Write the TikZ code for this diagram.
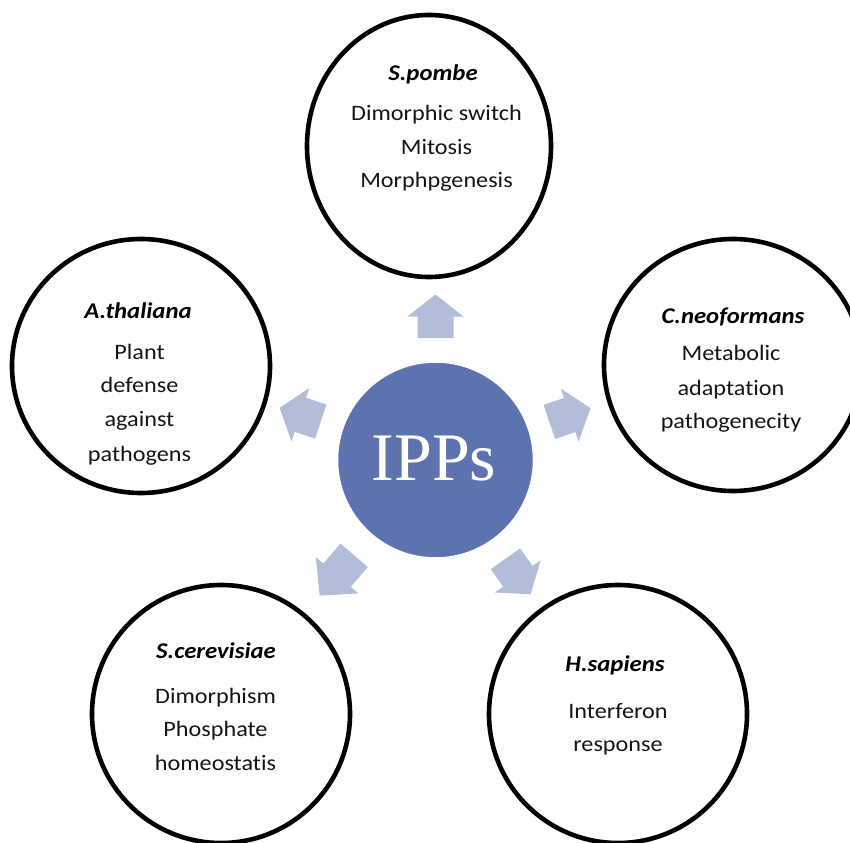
\documentclass[tikz,border=0pt]{standalone}
\usepackage{fontspec}
\setmainfont{Carlito}[FakeStretch=1.1, Ligatures=NoCommon]
\newfontfamily\ippsfont{Liberation Serif}
\usetikzlibrary{shapes.geometric}

\definecolor{ippsblue}{HTML}{5D73AF}
\definecolor{arrowblue}{HTML}{B3BDD9}

\begin{document}
\begin{tikzpicture}[x=1pt,y=-1pt,
  organism/.style={draw=black, line width=4.6pt, ellipse, inner sep=0pt},
  title/.style={anchor=base, inner sep=0pt,
    font=\fontsize{22.5}{26}\selectfont\bfseries\itshape},
  role/.style={anchor=base, inner sep=0pt, text=black!92,
    font=\fontsize{22}{26}\selectfont},
  outarrow/.style={fill=arrowblue, draw=none}]
\useasboundingbox (0,0) rectangle (850,842);

% organism circles
\node[organism, minimum width=244, minimum height=262] (pombe) at (429,146) {};
\node[organism, minimum width=258, minimum height=254] (thaliana) at (141,366) {};
\node[organism, minimum width=258, minimum height=252] (neoformans) at (733,365) {};
\node[organism, minimum width=258, minimum height=258] (cerevisiae) at (221,714) {};
\node[organism, minimum width=258, minimum height=258] (sapiens) at (618,714) {};

% central disc
\node[circle, fill=ippsblue, draw=white, line width=1.5pt, minimum size=196,
      inner sep=0pt] (ipps) at (435.5,460) {};
\node[anchor=base, inner sep=0pt, text=white,
      font=\ippsfont\fontsize{68}{70}\selectfont] (ippslabel) at (434,480) {IPPs};

% block arrows radiating from the disc: angle / start radius / length factor
\foreach \a/\r/\s in {90/122/1, 161.5/121/1, 18.5/120/1, 305.3/121/1, 229.5/125.3/1.22}{
  \fill[outarrow, shift={(ipps.center)}, rotate=\a, xshift=\r, xscale=\s]
    (0,-18) -- (21.5,-18) -- (21.5,-28) -- (43.5,0) -- (21.5,28) -- (21.5,18)
    -- (0,18) -- cycle;
}

% S. pombe
\node[title] (pombe-t) at (433,81) {S.pombe};
\node[role] (pombe-1) at (436.5,120.5) {Dimorphic switch};
\node[role] (pombe-2) at (436.5,155) {Mitosis};
\node[role] (pombe-3) at (436.5,188) {Morphpgenesis};

% A. thaliana
\node[title] (thaliana-t) at (138,318.3) {A.thaliana};
\node[role] (thaliana-1) at (139.5,359.3) {Plant};
\node[role] (thaliana-2) at (139.5,392.7) {defense};
\node[role] (thaliana-3) at (139.5,426) {against};
\node[role] (thaliana-4) at (139.5,461) {pathogens};

% C. neoformans
\node[title] (neoformans-t) at (733,323.3) {C.neoformans};
\node[role] (neoformans-1) at (731,360.7) {Metabolic};
\node[role] (neoformans-2) at (731,395) {adaptation};
\node[role] (neoformans-3) at (731,428.3) {pathogenecity};

% S. cerevisiae
\node[title] (cerevisiae-t) at (216,658.3) {S.cerevisiae};
\node[role] (cerevisiae-1) at (215.5,703.3) {Dimorphism};
\node[role] (cerevisiae-2) at (215.5,736.7) {Phosphate};
\node[role] (cerevisiae-3) at (215.5,770) {homeostatis};

% H. sapiens
\node[title] (sapiens-t) at (615,671.7) {H.sapiens};
\node[role] (sapiens-1) at (618,718.3) {Interferon};
\node[role] (sapiens-2) at (618,751.7) {response};
\end{tikzpicture}
\end{document}
